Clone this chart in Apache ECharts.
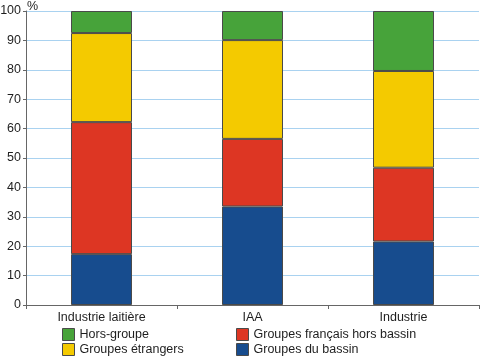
<!DOCTYPE html>
<html><head><meta charset="utf-8">
<script src="https://cdn.jsdelivr.net/npm/echarts@6/dist/echarts.min.js"></script>
<style>html,body{margin:0;padding:0;background:#fff}#c{width:480px;height:356px}</style>
</head><body><div id="c"></div>
<script>
var categories = ['Industrie laitière', 'IAA', 'Industrie'];
var groupesBassin = [17.3, 33.5, 21.6];
var groupesFrancais = [44.9, 23.0, 25.1];
var groupesEtrangers = [30.3, 33.6, 32.9];
var horsGroupe = [7.5, 9.9, 20.4];
var yTicks = [0, 10, 20, 30, 40, 50, 60, 70, 80, 90, 100];

var colors = {bassin:'#174c8e', francais:'#dd3623', etrangers:'#f4ca00', hors:'#47a33a'};
function s(name, data, color) {
  return {name:name, type:'bar', stack:'t', data:data, barWidth:61,
    itemStyle:{color:color, borderColor:'#4a4a4a', borderWidth:1}};
}
var chart = echarts.init(document.getElementById('c'), null, {renderer:'canvas'});
var FF = 'Liberation Sans, Arial, sans-serif';
function legend(names, left) {
  return {data:names, left:left, top:328, height:40, orient:'vertical', icon:'rect',
    itemWidth:12, itemHeight:12, itemGap:2, padding:0,
    textStyle:{fontFamily:FF, fontSize:12.5, lineHeight:13, color:'#1e1e1e'},
    itemStyle:{borderColor:'#4a4a4a', borderWidth:1}};
}
chart.setOption({
  animation:false,
  grid:{left:26, right:1, top:11, bottom:51, containLabel:false, outerBoundsMode:'none'},
  xAxis:{type:'category', data:categories,
    axisLine:{lineStyle:{color:'#666', width:1}},
    axisTick:{show:true, length:4, lineStyle:{color:'#666'}, alignWithLabel:false},
    axisLabel:{margin:6, fontFamily:FF, fontSize:12.5, color:'#1e1e1e'}},
  yAxis:{type:'value', min:yTicks[0], max:yTicks[yTicks.length-1], interval:10,
    name:'%', nameLocation:'end', nameGap:0,
    nameTextStyle:{fontFamily:FF, fontSize:12.5, color:'#1e1e1e', align:'left', verticalAlign:'bottom', padding:[0,0,-2,1]},
    axisLine:{show:true, lineStyle:{color:'#666', width:1}},
    axisTick:{show:true, length:3, lineStyle:{color:'#666'}},
    axisLabel:{margin:5, fontFamily:FF, fontSize:12.5, color:'#1e1e1e'},
    splitLine:{show:true, lineStyle:{color:'#a9d2f0', width:1}}},
  legend:[
    legend(['Hors-groupe','Groupes étrangers'], 62),
    legend(['Groupes français hors bassin','Groupes du bassin'], 236)
  ],
  series:[
    s('Groupes du bassin', groupesBassin, colors.bassin),
    s('Groupes français hors bassin', groupesFrancais, colors.francais),
    s('Groupes étrangers', groupesEtrangers, colors.etrangers),
    s('Hors-groupe', horsGroupe, colors.hors)
  ]
});
</script></body></html>
